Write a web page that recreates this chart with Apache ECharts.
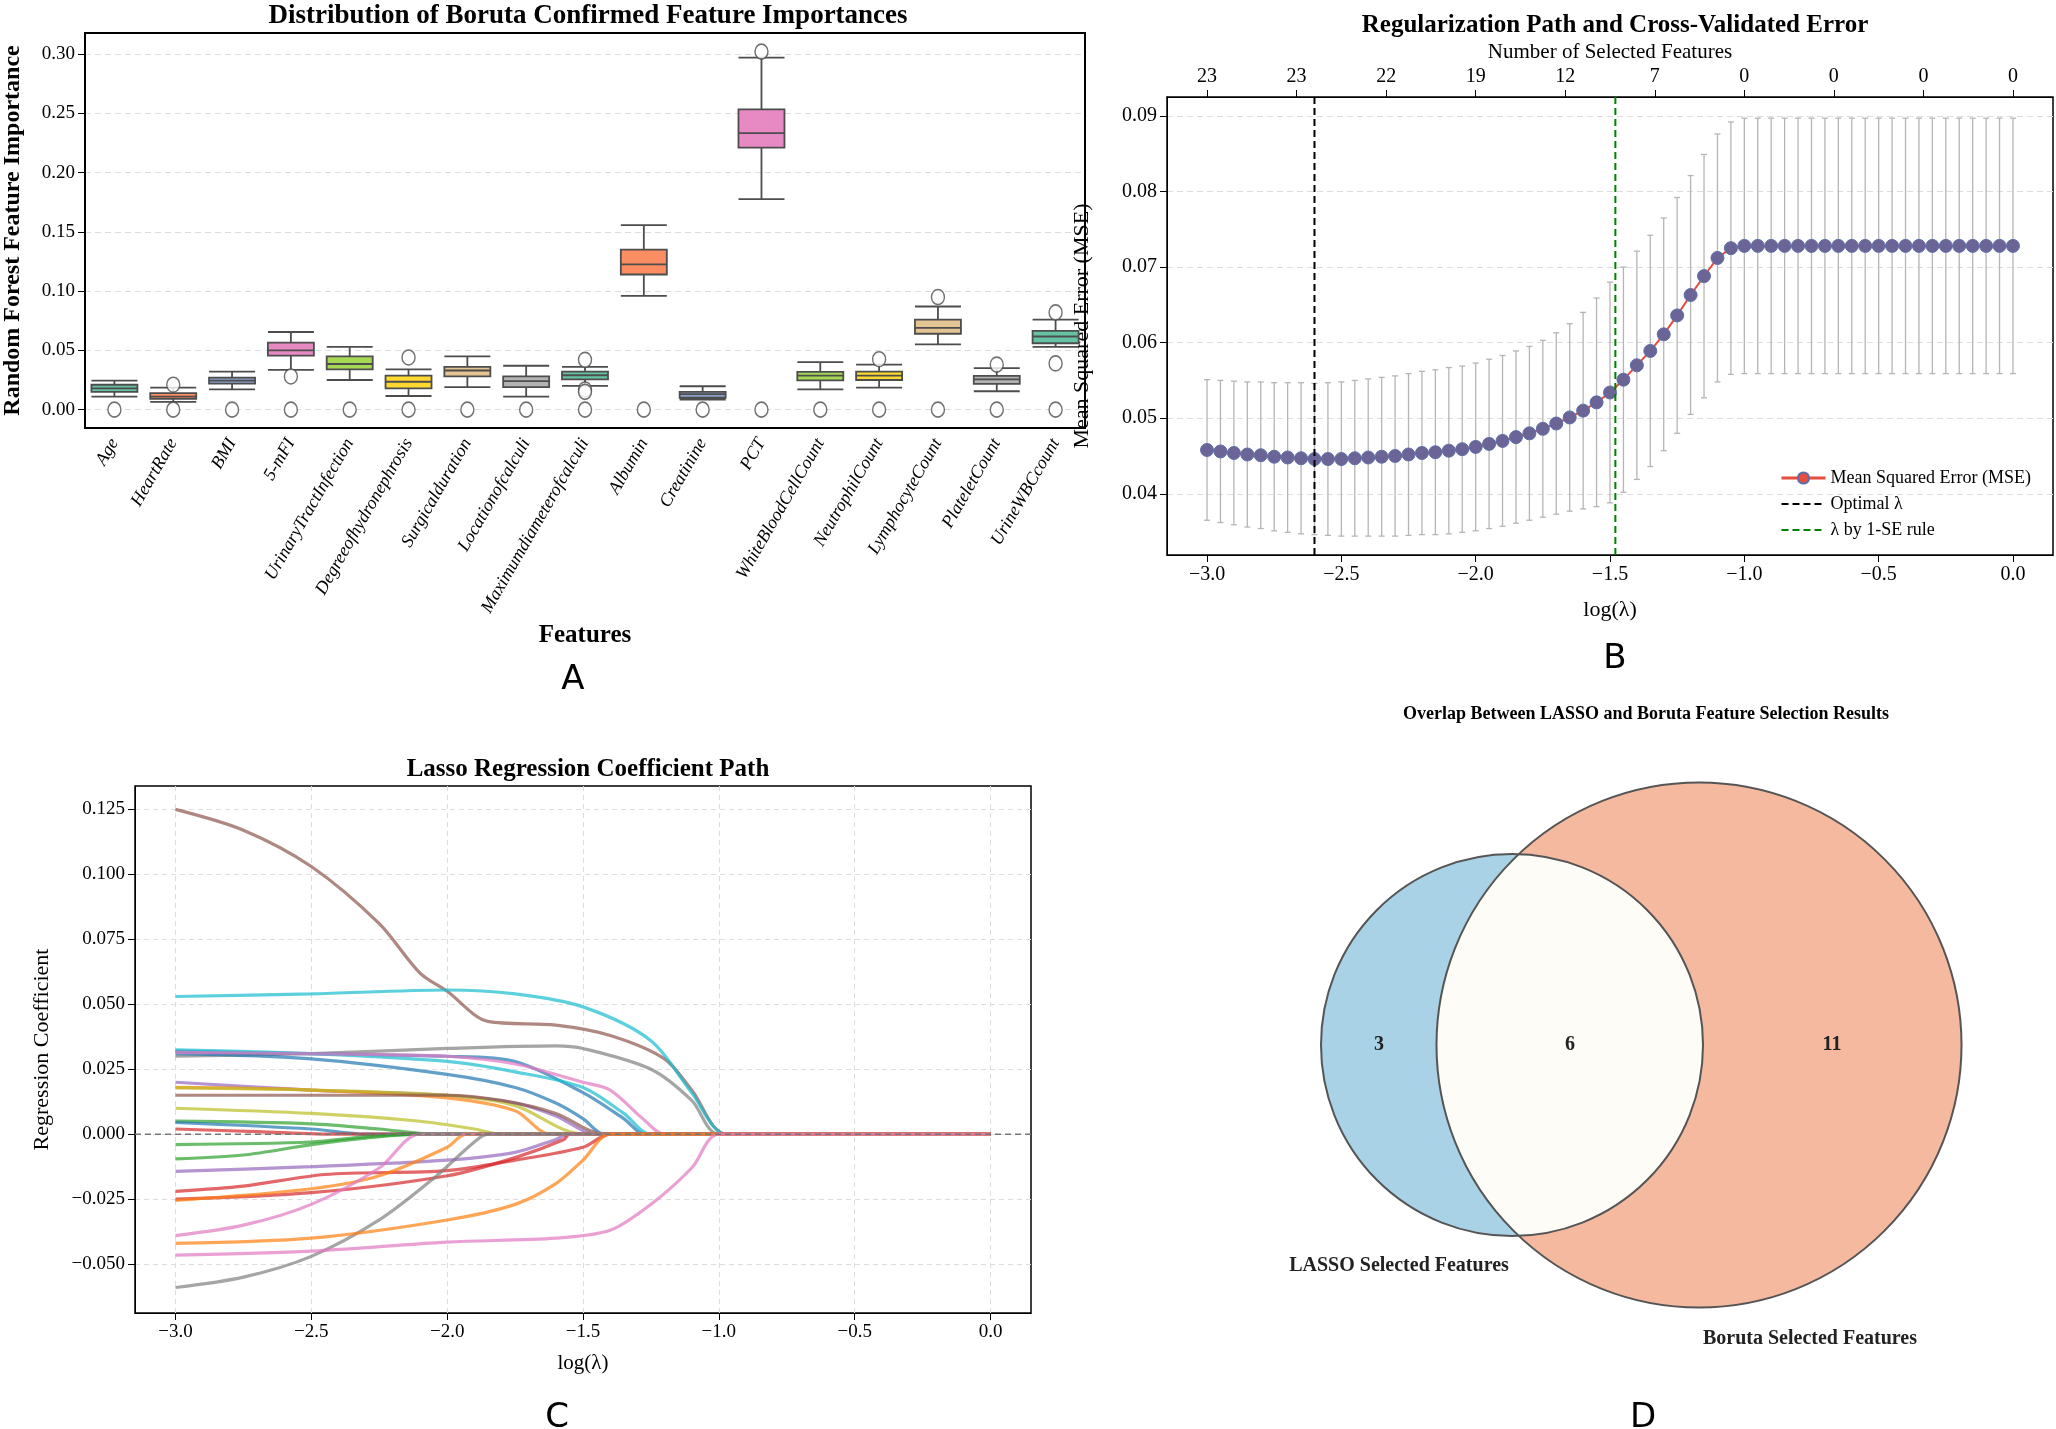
<!DOCTYPE html>
<html><head><meta charset="utf-8">
<script src="https://cdn.jsdelivr.net/npm/echarts@6/dist/echarts.min.js"></script>
<style>html,body{margin:0;padding:0;background:#fff}#c{width:2056px;height:1429px}</style>
</head><body><div id="c"></div>
<script>
// ---------- Panel A data ----------
const features = ['Age','HeartRate','BMI','5-mFI','UrinaryTractInfection','Degreeofhydronephrosis','Surgicalduration','Locationofcalculi','Maximumdiameterofcalculi','Albumin','Creatinine','PCT','WhiteBloodCellCount','NeutrophilCount','LymphocyteCount','PlateletCount','UrineWBCcount'];
const boxStats = [
 [0.011,0.015,0.018,0.021,0.0245],
 [0.0065,0.009,0.011,0.014,0.0185],
 [0.017,0.022,0.0245,0.027,0.032],
 [0.0335,0.0455,0.050,0.0565,0.0655],
 [0.025,0.034,0.0385,0.045,0.053],
 [0.0115,0.018,0.0235,0.0287,0.034],
 [0.019,0.028,0.033,0.036,0.045],
 [0.011,0.019,0.024,0.028,0.037],
 [0.020,0.0255,0.029,0.032,0.036],
 [0.096,0.114,0.1225,0.135,0.1557],
 [0.0085,0.010,0.013,0.015,0.0197],
 [0.1775,0.221,0.2333,0.2533,0.297],
 [0.017,0.0247,0.0287,0.0318,0.040],
 [0.0185,0.025,0.0287,0.032,0.038],
 [0.055,0.064,0.069,0.076,0.087],
 [0.0155,0.0217,0.0256,0.0284,0.035],
 [0.053,0.056,0.0617,0.0664,0.076]
];
const outliers = [
 [0],[0,0.021],[0],[0,0.028],[0],[0,0.044],[0],[0],[0,0.042,0.017,0.015],[0],[0],[0,0.302],[0],[0,0.0425],[0,0.095],[0,0.038],[0,0.082,0.039]
];
const boxColors = ['#66c2a5','#fc8d62','#8da0cb','#e78ac3','#a6d854','#ffd92f','#e5c494','#b3b3b3'];

// ---------- Panel B data ----------
const mseLogLambdaStart = -3, mseStep = 0.05;
const mseValues = [.0458,.0456,.0454,.0452,.0451,.0449,.0448,.0447,.0446,.0446,.0446,.0447,.0448,.0449,.0450,.0452,.0454,.0455,.0457,.0459,.0462,.0466,.0470,.0475,.0480,.0486,.0493,.0501,.0510,.0521,.0534,.0551,.0570,.0589,.0611,.0636,.0663,.0688,.0712,.0725,.0728,
 .0728,.0728,.0728,.0728,.0728,.0728,.0728,.0728,.0728,.0728,.0728,.0728,.0728,.0728,.0728,.0728,.0728,.0728,.0728,.0728];
const mseSE = [.0093,.0094,.0095,.0096,.0097,.0098,.0099,.0100,.0100,
 .0101,.0102,.0103,.0104,.0105,.0106,.0107,.0108,.0109,.0110,.0110,.0111,
 .0112,.0113,.0114,.0115,.0117,.0120,.0124,.0130,.0138,.0146,
 .0149,.0151,.0153,.0154,.0156,.0158,.0161,.0164,.0167,.0169,
 .0169,.0169,.0169,.0169,.0169,.0169,.0169,.0169,.0169,.0169,.0169,.0169,.0169,.0169,.0169,.0169,.0169,.0169,.0169,.0169];
const optimalLambda = -2.6;
const seLambda = -1.48;
const topTickPositions = [-3,-2.6667,-2.3333,-2,-1.6667,-1.3333,-1,-0.6667,-0.3333,0];
const topTickCounts = [23,23,22,19,12,7,0,0,0,0];

// ---------- Panel C data ----------
const lassoColors = ['#8c564b','#17becf','#7f7f7f','#1f77b4','#1f77b4','#17becf','#e377c2','#9467bd','#ff7f0e','#bcbd22','#8c564b','#bcbd22','#2ca02c','#1f77b4','#d62728','#2ca02c','#2ca02c','#9467bd','#d62728','#d62728','#ff7f0e','#e377c2','#7f7f7f','#ff7f0e','#e377c2'];
const lassoPaths = [
 [[-3,0.125],[-2.75,0.117],[-2.5,0.103],[-2.25,0.081],[-2.1,0.062],[-2.0,0.055],[-1.85,0.0434],[-1.6,0.042],[-1.4,0.038],[-1.2,0.029],[-1.1,0.017],[-0.97,0]],
 [[-3,0.053],[-2.5,0.054],[-2.0,0.0555],[-1.75,0.054],[-1.5,0.049],[-1.25,0.036],[-1.1,0.016],[-0.97,0]],
 [[-3,0.030],[-2.5,0.031],[-2.0,0.033],[-1.6,0.034],[-1.5,0.033],[-1.25,0.025],[-1.1,0.013],[-1.0,0]],
 [[-3,0.031],[-2.5,0.029],[-2.0,0.023],[-1.75,0.018],[-1.6,0.012],[-1.5,0.006],[-1.42,0]],
 [[-3,0.032],[-2.5,0.031],[-2.0,0.030],[-1.75,0.028],[-1.5,0.016],[-1.35,0.006],[-1.27,0]],
 [[-3,0.0325],[-2.5,0.031],[-2.0,0.028],[-1.75,0.024],[-1.5,0.018],[-1.35,0.008],[-1.25,0]],
 [[-3,0.0315],[-2.5,0.031],[-2.0,0.030],[-1.75,0.027],[-1.5,0.020],[-1.4,0.017],[-1.28,0.006],[-1.2,0]],
 [[-3,0.020],[-2.5,0.017],[-2.0,0.015],[-1.75,0.012],[-1.6,0.007],[-1.45,0]],
 [[-3,0.018],[-2.5,0.017],[-2.0,0.014],[-1.75,0.009],[-1.62,0]],
 [[-3,0.0178],[-2.5,0.017],[-2.0,0.015],[-1.75,0.011],[-1.5,0]],
 [[-3,0.015],[-2.5,0.015],[-2.0,0.015],[-1.8,0.013],[-1.6,0.008],[-1.42,0]],
 [[-3,0.010],[-2.5,0.008],[-2.1,0.005],[-1.9,0.002],[-1.8,0]],
 [[-3,0.005],[-2.5,0.004],[-2.25,0.002],[-2.05,0]],
 [[-3,0.0045],[-2.5,0.002],[-2.3,0]],
 [[-3,0.002],[-2.7,0.001],[-2.4,0]],
 [[-3,-0.004],[-2.5,-0.003],[-2.3,-0.001],[-2.1,0]],
 [[-3,-0.0095],[-2.75,-0.008],[-2.5,-0.004],[-2.3,-0.0015],[-2.1,0]],
 [[-3,-0.0143],[-2.5,-0.0125],[-2.0,-0.010],[-1.75,-0.007],[-1.6,-0.002],[-1.55,0]],
 [[-3,-0.022],[-2.75,-0.020],[-2.45,-0.0155],[-2.0,-0.014],[-1.75,-0.010],[-1.5,-0.005],[-1.4,0]],
 [[-3,-0.025],[-2.5,-0.0225],[-2.0,-0.016],[-1.75,-0.009],[-1.57,-0.002],[-1.55,0]],
 [[-3,-0.0255],[-2.5,-0.021],[-2.25,-0.016],[-2.0,-0.005],[-1.93,0]],
 [[-3,-0.039],[-2.75,-0.035],[-2.5,-0.027],[-2.25,-0.013],[-2.1,0]],
 [[-3,-0.059],[-2.75,-0.055],[-2.5,-0.047],[-2.25,-0.033],[-2.05,-0.017],[-1.9,-0.003],[-1.85,0]],
 [[-3,-0.042],[-2.5,-0.040],[-2.0,-0.033],[-1.75,-0.027],[-1.6,-0.019],[-1.5,-0.010],[-1.4,0]],
 [[-3,-0.0465],[-2.5,-0.045],[-2.0,-0.0415],[-1.6,-0.040],[-1.4,-0.037],[-1.25,-0.027],[-1.1,-0.013],[-1.0,0]]
];

// ---------- Panel D data ----------
const vennLabels = ['LASSO Selected Features','Boruta Selected Features'];
const vennCounts = {lassoOnly:3, both:6, borutaOnly:11};

// ================= build =================
const SERIF = 'Liberation Serif';
const chart = echarts.init(document.getElementById('c'));
const xTicks = [-3,-2.5,-2,-1.5,-1,-0.5,0];
const fmtMinus = v => (v<0?'\u2212':'') + Math.abs(v).toFixed(1);

const boxData = boxStats.map((s,i)=>({value:s, itemStyle:{color:boxColors[i%8]}}));
const outData = [];
outliers.forEach((arr,i)=>arr.forEach(v=>outData.push([features[i], v])));

const mseData = mseValues.map((v,i)=>[mseLogLambdaStart+i*mseStep, v]);
const errData = mseValues.map((v,i)=>[mseLogLambdaStart+i*mseStep, v-mseSE[i], v+mseSE[i]]);
const B_YMIN = 0.0319, B_YMAX = 0.0925;

const lassoSeries = lassoPaths.map((p,i)=>({
  type:'line', xAxisIndex:3, yAxisIndex:2, data:p.concat([[0,0]]), showSymbol:false, smooth:0.3,
  lineStyle:{color:lassoColors[i], width:3.2, opacity:0.7}, silent:true, z:3
}));

// venn geometry: radii from set sizes (area proportional)
const nL = vennCounts.lassoOnly+vennCounts.both, nB = vennCounts.borutaOnly+vennCounts.both;
const k = 191/Math.sqrt(9);
const r1 = k*Math.sqrt(nL), r2 = k*Math.sqrt(nB);
const cy = 1045, x1 = 1512, x2 = 1699, d = x2-x1;
const a = (d*d + r1*r1 - r2*r2)/(2*d);
const th1 = Math.acos(a/r1), th2 = Math.acos((d-a)/r2);
const lens = [];
for(let i=0;i<=60;i++){const t=-th1+2*th1*i/60; lens.push([x1+r1*Math.cos(t), cy+r1*Math.sin(t)]);}
for(let i=0;i<=60;i++){const t=Math.PI-th2+2*th2*i/60; lens.push([x2+r2*Math.cos(t), cy+r2*Math.sin(t)]);}
const vennEdge = '#555';

const axisLbl = (size)=>({fontFamily:SERIF, fontSize:size, color:'#000'});

chart.setOption({
  animation:false,
  backgroundColor:'#fff',
  title:[
    {text:'Distribution of Boruta Confirmed Feature Importances', left:583, top:-2, textAlign:'center', textStyle:{fontFamily:SERIF,fontWeight:'bold',fontSize:27,color:'#000'}},
    {text:'Regularization Path and Cross-Validated Error', left:1610, top:8, textAlign:'center', textStyle:{fontFamily:SERIF,fontWeight:'bold',fontSize:25,color:'#000'}},
    {text:'Lasso Regression Coefficient Path', left:583, top:752, textAlign:'center', textStyle:{fontFamily:SERIF,fontWeight:'bold',fontSize:25,color:'#000'}},
    {text:'Overlap Between LASSO and Boruta Feature Selection Results', left:1641, top:700, textAlign:'center', textStyle:{fontFamily:SERIF,fontWeight:'bold',fontSize:18,color:'#000'}},
    {text:'A', left:568, top:658, textAlign:'center', textStyle:{fontFamily:'DejaVu Sans',fontWeight:'normal',fontSize:34,color:'#000'}},
    {text:'B', left:1610, top:637, textAlign:'center', textStyle:{fontFamily:'DejaVu Sans',fontWeight:'normal',fontSize:34,color:'#000'}},
    {text:'C', left:552, top:1396, textAlign:'center', textStyle:{fontFamily:'DejaVu Sans',fontWeight:'normal',fontSize:34,color:'#000'}},
    {text:'D', left:1638, top:1396, textAlign:'center', textStyle:{fontFamily:'DejaVu Sans',fontWeight:'normal',fontSize:34,color:'#000'}}
  ],
  legend:{
    left:1775, top:464, orient:'vertical', itemGap:8, itemWidth:44, itemHeight:14,
    textStyle:{fontFamily:SERIF,fontSize:18,color:'#000'},
    data:[{name:'Mean Squared Error (MSE)', itemStyle:{color:'#e74c3c'}, lineStyle:{color:'#e74c3c', width:3}},
          {name:'Optimal λ', itemStyle:{opacity:0}},{name:'λ by 1-SE rule', itemStyle:{opacity:0}}]
  },
  grid:[
    {left:81, width:1004, top:33, height:395, show:true, borderColor:'#000', borderWidth:2, backgroundColor:'transparent'},
    {left:1167, width:886, top:97, height:458, show:true, borderColor:'#000', borderWidth:1.5, backgroundColor:'transparent'},
    {left:135, width:896, top:786, height:527, show:true, borderColor:'#000', borderWidth:1.5, backgroundColor:'transparent'}
  ],
  xAxis:[
    {type:'category', gridIndex:0, data:features, boundaryGap:true,
     axisLine:{onZero:false, lineStyle:{color:'#000',width:2}}, axisTick:{alignWithLabel:true, length:8, lineStyle:{color:'#000'}},
     axisLabel:{...axisLbl(18), fontStyle:'italic', rotate:60, interval:0, margin:12},
     name:'Features', nameLocation:'middle', nameGap:195, nameTextStyle:{fontFamily:SERIF,fontWeight:'bold',fontSize:25,color:'#000'}},
    {type:'value', gridIndex:1, min:-3.149, max:0.149, splitLine:{show:false},
     axisLine:{onZero:false, lineStyle:{color:'#000'}}, axisTick:{customValues:xTicks, length:7, lineStyle:{color:'#000'}},
     axisLabel:{...axisLbl(20), customValues:xTicks, formatter:fmtMinus, margin:10},
     name:'log(λ)', nameLocation:'middle', nameGap:44, nameTextStyle:{fontFamily:SERIF,fontSize:22,color:'#000'}},
    {type:'value', gridIndex:1, position:'top', min:-3.149, max:0.149, splitLine:{show:false},
     axisLine:{onZero:false, lineStyle:{color:'#000'}}, axisTick:{customValues:topTickPositions, length:7, lineStyle:{color:'#000'}},
     axisLabel:{...axisLbl(20), customValues:topTickPositions, margin:10,
       formatter:v=>{let best=0;topTickPositions.forEach((p,i)=>{if(Math.abs(p-v)<Math.abs(topTickPositions[best]-v))best=i;});return String(topTickCounts[best]);}},
     name:'Number of Selected Features', nameLocation:'middle', nameGap:34, nameTextStyle:{fontFamily:SERIF,fontSize:21,color:'#000'}},
    {type:'value', gridIndex:2, min:-3.149, max:0.149,
     splitLine:{show:true, lineStyle:{type:[5,4], color:'#ddd'}},
     axisLine:{onZero:false, lineStyle:{color:'#000'}}, axisTick:{customValues:xTicks, length:7, lineStyle:{color:'#000'}},
     axisLabel:{...axisLbl(19), customValues:xTicks, formatter:fmtMinus, margin:10},
     name:'log(λ)', nameLocation:'middle', nameGap:40, nameTextStyle:{fontFamily:SERIF,fontSize:21,color:'#000'}}
  ],
  yAxis:[
    {type:'value', gridIndex:0, min:-0.0155, max:0.3177,
     axisLine:{show:true, onZero:false, lineStyle:{color:'#000',width:2}}, axisTick:{show:true, customValues:[0,0.05,0.1,0.15,0.2,0.25,0.3], length:7, lineStyle:{color:'#000'}},
     axisLabel:{...axisLbl(19), customValues:[0,0.05,0.1,0.15,0.2,0.25,0.3], formatter:v=>v.toFixed(2), margin:10},
     splitLine:{show:true, lineStyle:{type:[6,4], color:'#ddd'}},
     name:'Random Forest Feature Importance', nameLocation:'middle', nameGap:60,
     nameTextStyle:{fontFamily:SERIF,fontWeight:'bold',fontSize:24,color:'#000'}},
    {type:'value', gridIndex:1, min:B_YMIN, max:B_YMAX,
     axisLine:{show:true, onZero:false, lineStyle:{color:'#000'}}, axisTick:{show:true, customValues:[0.04,0.05,0.06,0.07,0.08,0.09], length:7, lineStyle:{color:'#000'}},
     axisLabel:{...axisLbl(20), customValues:[0.04,0.05,0.06,0.07,0.08,0.09], formatter:v=>v.toFixed(2), margin:10},
     splitLine:{show:true, lineStyle:{type:[6,4], color:'#ddd'}},
     name:'Mean Squared Error (MSE)', nameLocation:'middle', nameGap:74,
     nameTextStyle:{fontFamily:SERIF,fontSize:22,color:'#000'}},
    {type:'value', gridIndex:2, min:-0.0688, max:0.134,
     axisLine:{show:true, onZero:false, lineStyle:{color:'#000'}}, axisTick:{show:true, customValues:[-0.05,-0.025,0,0.025,0.05,0.075,0.1,0.125], length:7, lineStyle:{color:'#000'}},
     axisLabel:{...axisLbl(19), customValues:[-0.05,-0.025,0,0.025,0.05,0.075,0.1,0.125], formatter:v=>(v<0?'\u2212':'')+Math.abs(v).toFixed(3), margin:10},
     splitLine:{show:true, lineStyle:{type:[5,4], color:'#ddd'}},
     name:'Regression Coefficient', nameLocation:'middle', nameGap:82,
     nameTextStyle:{fontFamily:SERIF,fontSize:22,color:'#000'}}
  ],
  series:[
    {type:'boxplot', xAxisIndex:0, yAxisIndex:0, data:boxData, boxWidth:[46,46],
     itemStyle:{borderColor:'#4d4d4d', borderWidth:1.8}, silent:true},
    {type:'scatter', xAxisIndex:0, yAxisIndex:0, data:outData, symbol:'circle', symbolSize:[13,15],
     itemStyle:{color:'#fff', borderColor:'#4d4d4d', borderWidth:1.5}, silent:true, z:4},
    {type:'custom', xAxisIndex:1, yAxisIndex:1, data:errData, silent:true, z:2,
     renderItem:(params, api)=>{
       const x=api.value(0), lo=api.coord([x,api.value(1)]), hi=api.coord([x,api.value(2)]);
       const st={stroke:'#b5b5b5', lineWidth:1.3};
       return {type:'group', children:[
         {type:'line', shape:{x1:lo[0],y1:lo[1],x2:hi[0],y2:hi[1]}, style:st},
         {type:'line', shape:{x1:lo[0]-3,y1:lo[1],x2:lo[0]+3,y2:lo[1]}, style:st},
         {type:'line', shape:{x1:hi[0]-3,y1:hi[1],x2:hi[0]+3,y2:hi[1]}, style:st}
       ]};
     }},
    {name:'Mean Squared Error (MSE)', type:'line', xAxisIndex:1, yAxisIndex:1, data:mseData,
     symbol:'circle', symbolSize:13, lineStyle:{color:'#e74c3c', width:2},
     itemStyle:{color:'#6a6596', borderColor:'#5f6fa8', borderWidth:1}, z:5, silent:true},
    {name:'Optimal λ', type:'line', xAxisIndex:1, yAxisIndex:1, data:[[optimalLambda,B_YMIN],[optimalLambda,B_YMAX]],
     showSymbol:false, symbol:'none', lineStyle:{color:'#000', width:2, type:[7,4]}, itemStyle:{color:'#000'}, z:6, silent:true},
    {name:'λ by 1-SE rule', type:'line', xAxisIndex:1, yAxisIndex:1, data:[[seLambda,B_YMIN],[seLambda,B_YMAX]],
     showSymbol:false, symbol:'none', lineStyle:{color:'#008000', width:2, type:[7,4]}, itemStyle:{color:'#008000'}, z:6, silent:true},
    ...lassoSeries,
    {type:'line', xAxisIndex:3, yAxisIndex:2, data:[[-3.149,0],[0.149,0]], showSymbol:false, symbol:'none',
     lineStyle:{color:'#777', width:1.5, type:[6,4]}, z:4, silent:true}
  ],
  graphic:[
    {type:'circle', shape:{cx:x1, cy:cy, r:r1}, style:{fill:'#a9d2e6'}, z:1},
    {type:'circle', shape:{cx:x2, cy:cy, r:r2}, style:{fill:'#f5b9a0'}, z:1},
    {type:'polygon', shape:{points:lens}, style:{fill:'#fdfcf7'}, z:2},
    {type:'circle', shape:{cx:x1, cy:cy, r:r1}, style:{fill:null, stroke:vennEdge, lineWidth:2}, z:3},
    {type:'circle', shape:{cx:x2, cy:cy, r:r2}, style:{fill:null, stroke:vennEdge, lineWidth:2}, z:3},
    {type:'text', x:1379, y:cy, style:{text:String(vennCounts.lassoOnly), font:'bold 20px "Liberation Serif"', fill:'#222', align:'center', verticalAlign:'middle'}, z:4},
    {type:'text', x:1570, y:cy, style:{text:String(vennCounts.both), font:'bold 20px "Liberation Serif"', fill:'#222', align:'center', verticalAlign:'middle'}, z:4},
    {type:'text', x:1832, y:cy, style:{text:String(vennCounts.borutaOnly), font:'bold 20px "Liberation Serif"', fill:'#222', align:'center', verticalAlign:'middle'}, z:4},
    {type:'text', x:1399, y:1266, style:{text:vennLabels[0], font:'bold 20px "Liberation Serif"', fill:'#222', align:'center', verticalAlign:'middle'}, z:4},
    {type:'text', x:1810, y:1339, style:{text:vennLabels[1], font:'bold 20px "Liberation Serif"', fill:'#222', align:'center', verticalAlign:'middle'}, z:4}
  ]
});
</script></body></html>
